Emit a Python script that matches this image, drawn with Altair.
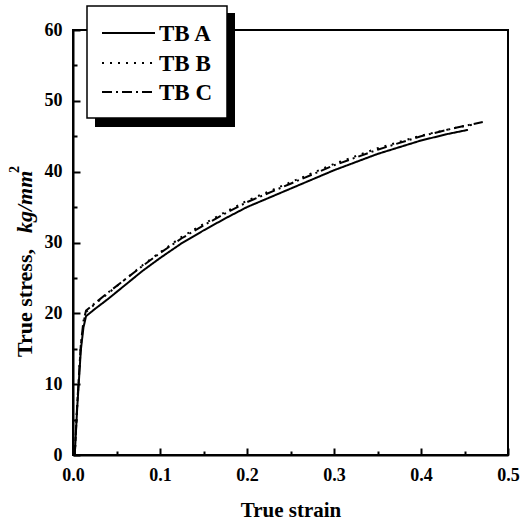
import altair as alt
import pandas as pd

series_names = ["TB A", "TB B", "TB C"]

strain_A = [0.002, 0.005, 0.009, 0.012, 0.015, 0.025, 0.04, 0.06, 0.08, 0.10, 0.125, 0.15, 0.175, 0.20, 0.25, 0.30, 0.35, 0.40, 0.43, 0.454]
stress_A = [0.0, 7.0, 14.8, 18.0, 19.6, 20.6, 22.0, 24.0, 26.0, 27.8, 29.9, 31.7, 33.4, 35.0, 37.6, 40.2, 42.5, 44.4, 45.3, 45.9]

strain_B = [0.002, 0.005, 0.009, 0.012, 0.015, 0.025, 0.04, 0.06, 0.08, 0.10, 0.125, 0.15, 0.175, 0.20, 0.25, 0.30, 0.35, 0.40, 0.44, 0.462]
stress_B = [0.0, 7.4, 15.4, 18.7, 20.2, 21.3, 22.8, 24.8, 26.8, 28.6, 30.8, 32.6, 34.3, 35.9, 38.5, 41.1, 43.3, 45.1, 46.2, 46.7]

strain_C = [0.002, 0.005, 0.009, 0.012, 0.015, 0.025, 0.04, 0.06, 0.08, 0.10, 0.125, 0.15, 0.175, 0.20, 0.25, 0.30, 0.35, 0.40, 0.44, 0.471]
stress_C = [0.0, 7.5, 15.6, 18.9, 20.4, 21.4, 22.9, 24.8, 26.7, 28.5, 30.6, 32.4, 34.1, 35.7, 38.3, 40.9, 43.1, 45.0, 46.2, 47.0]

x_major = [0.0, 0.1, 0.2, 0.3, 0.4, 0.5]
x_minor = [0.05, 0.15, 0.25, 0.35, 0.45]
y_major = [0, 10, 20, 30, 40, 50, 60]
y_minor = [5, 15, 25, 35, 45, 55]

frames = []
for name, xs, ys in [("TB A", strain_A, stress_A), ("TB B", strain_B, stress_B), ("TB C", strain_C, stress_C)]:
    frames.append(pd.DataFrame({"strain": xs, "stress": ys, "series": name}))
df = pd.concat(frames, ignore_index=True)

FONT = "Liberation Serif"
dashes = [[1, 0], [2, 6], [10, 4, 2, 4]]

xscale = alt.Scale(domain=[0, 0.5], nice=False, zero=False)
yscale = alt.Scale(domain=[0, 60], nice=False, zero=False)

curves = alt.Chart(df).mark_line(color="black", strokeWidth=2).encode(
    x=alt.X("strain:Q", scale=xscale,
            axis=alt.Axis(values=x_major, format=".1f", grid=False, orient="bottom",
                          tickSize={"expr": "-7"}, tickWidth=2, tickColor="black",
                          domainColor="black", domainWidth=2,
                          labelFont=FONT, labelFontWeight="bold", labelFontSize=18,
                          labelColor="black", labelPadding=18, labelFlush=False,
                          title="True strain", titleFont=FONT, titleFontWeight="bold",
                          titleFontSize=21, titleColor="black", titlePadding=15)),
    y=alt.Y("stress:Q", scale=yscale,
            axis=alt.Axis(values=y_major, format="d", grid=False, orient="left",
                          tickSize={"expr": "-7"}, tickWidth=2, tickColor="black",
                          domainColor="black", domainWidth=2,
                          labelFont=FONT, labelFontWeight="bold", labelFontSize=18,
                          labelColor="black", labelPadding=18, labelFlush=False,
                          title=None)),
    strokeDash=alt.StrokeDash("series:N", scale=alt.Scale(domain=series_names, range=dashes), legend=None),
    detail="series:N",
)

minor = alt.Chart(df).mark_point(opacity=0).encode(
    x=alt.X("strain:Q", scale=xscale,
            axis=alt.Axis(values=x_minor, labels=False, domain=False, grid=False, orient="bottom",
                          tickSize={"expr": "-4"}, tickWidth=2, tickColor="black", title=None)),
    y=alt.Y("stress:Q", scale=yscale,
            axis=alt.Axis(values=y_minor, labels=False, domain=False, grid=False, orient="left",
                          tickSize={"expr": "-4"}, tickWidth=2, tickColor="black", title=None)),
)

one = pd.DataFrame({"k": [0]})

# legend box with shadow
shadow = alt.Chart(one).mark_rect(color="black").encode(
    x=alt.value(22), x2=alt.value(162), y=alt.value(-17), y2=alt.value(97))
box = alt.Chart(one).mark_rect(fill="white", stroke="black", strokeWidth=1.5).encode(
    x=alt.value(14), x2=alt.value(154), y=alt.value(-24), y2=alt.value(88))

legend_layers = []
row_y = [3, 33, 62]
for i, name in enumerate(series_names):
    legend_layers.append(
        alt.Chart(one).mark_rule(color="black", strokeWidth=2, strokeDash=dashes[i]).encode(
            x=alt.value(29), x2=alt.value(82), y=alt.value(row_y[i])))
    legend_layers.append(
        alt.Chart(one).mark_text(text=name, font=FONT, fontWeight="bold", fontSize=23,
                                 align="left", baseline="middle", color="black").encode(
            x=alt.value(86), y=alt.value(row_y[i] + 1)))

# y-axis title (mixed styles)
yt1 = alt.Chart(one).mark_text(text="True stress,", font=FONT, fontWeight="bold", fontSize=22,
                               angle=270, align="left", baseline="alphabetic", color="black").encode(
    x=alt.value(-41), y=alt.value(327))
yt2 = alt.Chart(one).mark_text(text="kg/mm", font=FONT, fontWeight="bold", fontStyle="italic",
                               fontSize=22, angle=270, align="left", baseline="alphabetic",
                               color="black").encode(
    x=alt.value(-41), y=alt.value(203))
yt3 = alt.Chart(one).mark_text(text="2", font=FONT, fontWeight="bold", fontSize=14,
                               angle=270, align="left", baseline="alphabetic", color="black").encode(
    x=alt.value(-54), y=alt.value(143))

chart = alt.layer(curves, minor, shadow, box, *legend_layers, yt1, yt2, yt3).resolve_axis(
    x="independent", y="independent"
).properties(
    width=435, height=425,
    autosize=alt.AutoSizeParams(type="none"),
    padding={"left": 73, "top": 30, "right": 13, "bottom": 65},
    background="white",
).configure_view(stroke="black", strokeWidth=2)

chart.save("out.html", embed_options={"renderer": "svg", "actions": False})
